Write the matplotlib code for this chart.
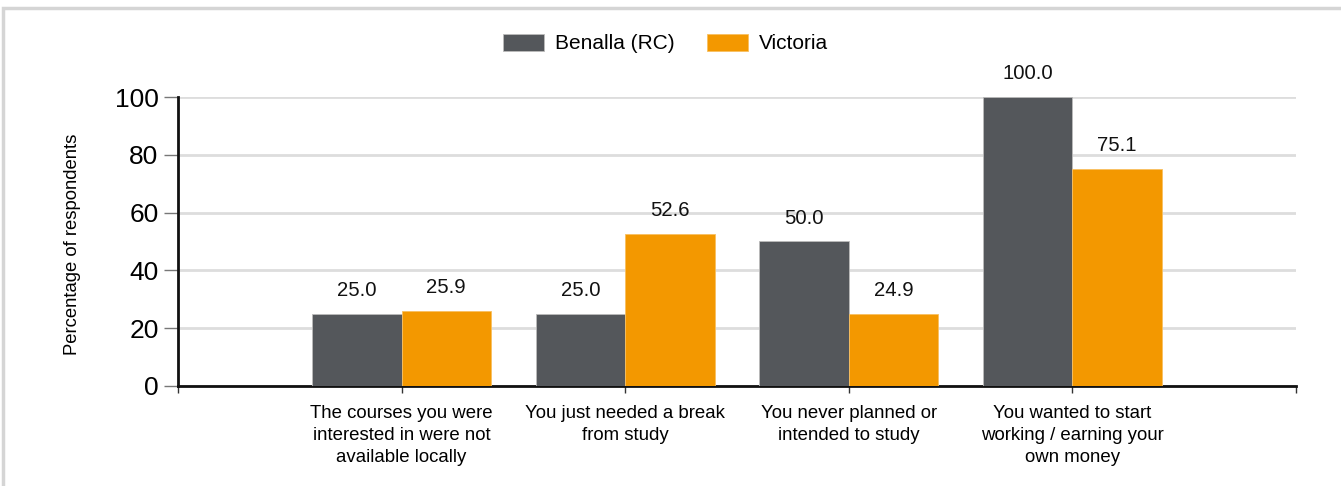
import matplotlib.pyplot as plt
import numpy as np
from matplotlib.patches import Rectangle

plt.rcParams["font.family"] = ["Liberation Sans", "DejaVu Sans"]

categories = [
    "The courses you were\ninterested in were not\navailable locally",
    "You just needed a break\nfrom study",
    "You never planned or\nintended to study",
    "You wanted to start\nworking / earning your\nown money",
]
series_names = ["Benalla (RC)", "Victoria"]
benalla = [25.0, 25.0, 50.0, 100.0]
victoria = [25.9, 52.6, 24.9, 75.1]

C_DARK = "#54575B"
C_ORANGE = "#F39800"
C_GRID = "#DDDDDD"

fig = plt.figure(figsize=(13.41, 4.86), dpi=100)
ax = fig.add_axes([0.1327, 0.2058, 0.8337, 0.5946])

x = np.arange(1, len(categories) + 1)
w = 0.4
b1 = ax.bar(x - w / 2, benalla, w, color=C_DARK, edgecolor="#BBBBBB",
            linewidth=0.6, label=series_names[0], zorder=3)
b2 = ax.bar(x + w / 2, victoria, w, color=C_ORANGE, edgecolor="#F8C060",
            linewidth=0.6, label=series_names[1], zorder=3)

for bars, vals in ((b1, benalla), (b2, victoria)):
    for rect, v in zip(bars, vals):
        ax.annotate(f"{v:.1f}", (rect.get_x() + rect.get_width() / 2, v),
                    xytext=(0, 10), textcoords="offset points",
                    ha="center", va="bottom", fontsize=14.6, color="#111111")

ax.set_xlim(0, 5)
ax.set_ylim(0, 100)
ax.set_yticks([0, 20, 40, 60, 80, 100])
ax.tick_params(axis="y", labelsize=19, length=10, width=1, color="#777777",
               pad=4)
ax.set_xticks([0, 1, 2, 3, 4, 5])
ax.set_xticklabels([""] + categories + [""], fontsize=13.4, linespacing=1.38)
ax.tick_params(axis="x", length=5, width=1, color="#333333", pad=9)

ax.yaxis.grid(True, color=C_GRID, linewidth=2, zorder=0)
ax.set_axisbelow(True)
for s in ("top", "right"):
    ax.spines[s].set_visible(False)
ax.spines["left"].set_linewidth(2)
ax.spines["bottom"].set_linewidth(2)
ax.spines["left"].set_color("#111111")
ax.spines["bottom"].set_color("#111111")

fig.text(0.054, 0.497, "Percentage of respondents", rotation=90,
         ha="center", va="center", fontsize=13.3)

fig.legend(handles=[b1, b2], labels=series_names, loc="center",
           bbox_to_anchor=(0.4963, 0.9105), ncol=2, frameon=False,
           fontsize=15, handlelength=1.97, handleheight=0.91,
           columnspacing=1.58, handletextpad=0.53)

# outer frame
fig.add_artist(Rectangle((0.002, -0.05), 1.05, 1.034,
                         transform=fig.transFigure, fill=False,
                         edgecolor="#D5D5D5", linewidth=2.5))

fig.savefig("out.png", dpi=100, facecolor="white")
